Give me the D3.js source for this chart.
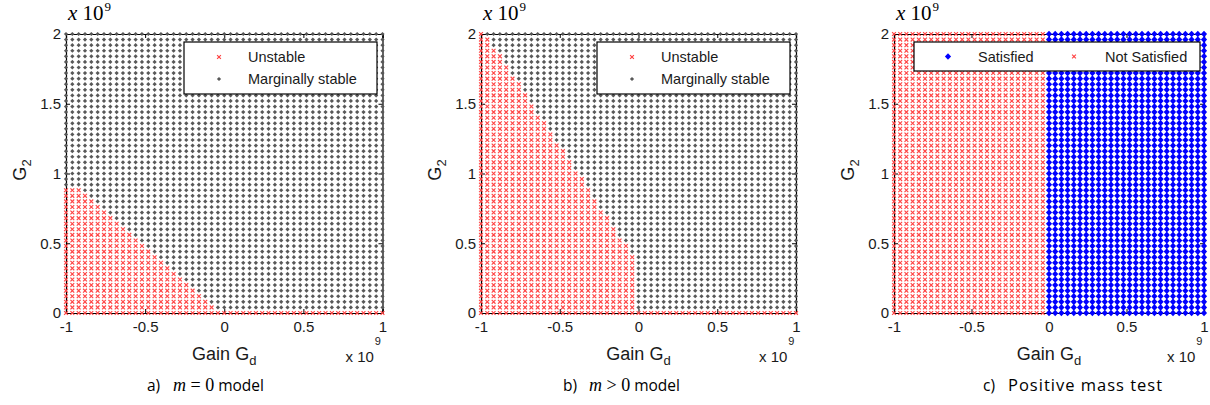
<!DOCTYPE html>
<html>
<head>
<meta charset="utf-8">
<script src="https://cdn.jsdelivr.net/npm/d3@7"></script>
<style>
  html, body { margin: 0; padding: 0; background: #fff; }
  svg { display: block; }
  .tick text { font-family: "Liberation Sans", Arial, sans-serif; font-size: 15px; fill: #1a1a1a; }
</style>
</head>
<body>
<svg id="chart" width="1210" height="405"></svg>
<script>
// Sampling lattice of the gain sweep (values in units of 1e9)
const gridGd = [-1,-0.96,-0.92,-0.88,-0.84,-0.8,-0.76,-0.72,-0.68,-0.64,-0.6,-0.56,-0.52,-0.48,-0.44,-0.4,-0.36,-0.32,-0.28,-0.24,-0.2,-0.16,-0.12,-0.08,-0.04,0,0.04,0.08,0.12,0.16,0.2,0.24,0.28,0.32,0.36,0.4,0.44,0.48,0.52,0.56,0.6,0.64,0.68,0.72,0.76,0.8,0.84,0.88,0.92,0.96,1];
const gridG2 = [0,0.04,0.08,0.12,0.16,0.2,0.24,0.28,0.32,0.36,0.4,0.44,0.48,0.52,0.56,0.6,0.64,0.68,0.72,0.76,0.8,0.84,0.88,0.92,0.96,1,1.04,1.08,1.12,1.16,1.2,1.24,1.28,1.32,1.36,1.4,1.44,1.48,1.52,1.56,1.6,1.64,1.68,1.72,1.76,1.8,1.84,1.88,1.92,1.96,2];

// Highest unstable G2 for each Gd column, m = 0 model
const unstableLimitA = [0.88,0.88,0.88,0.84,0.80,0.76,0.72,0.68,0.64,0.60,0.56,0.52,0.48,0.44,0.40,0.36,0.32,0.28,0.24,0.20,0.16,0.12,0.08,0.04,0,
  0,0,0,0,0,0,0,0,0,0,0,0,0,0,0,0,0,0,0,0,0,0,0,0,0,0];
// Highest unstable G2 for each Gd column, m > 0 model
const unstableLimitB = [2.00,1.96,1.88,1.84,1.76,1.68,1.64,1.56,1.48,1.40,1.36,1.28,1.20,1.16,1.08,1.00,0.96,0.88,0.80,0.72,0.68,0.60,0.52,0.48,0.40,
  0,0,0,0,0,0,0,0,0,0,0,0,0,0,0,0,0,0,0,0,0,0,0,0,0,0];
// Positive mass test outcome per Gd column (1 = satisfied)
const massTestPass = [0,0,0,0,0,0,0,0,0,0,0,0,0,0,0,0,0,0,0,0,0,0,0,0,0,
  1,1,1,1,1,1,1,1,1,1,1,1,1,1,1,1,1,1,1,1,1,1,1,1,1,1];

const xTicks = [-1, -0.5, 0, 0.5, 1];
const xTickLabels = ["-1", "-0.5", "0", "0.5", "1"];
const yTicks = [0, 0.5, 1, 1.5, 2];
const yTickLabels = ["0", "0.5", "1", "1.5", "2"];

const svg = d3.select("#chart");
const SANS = '"Liberation Sans", Arial, sans-serif';
const SERIF = '"Liberation Serif", "Times New Roman", serif';
const CAPTION = '"Open Sans", Lato, sans-serif';

const RED = "#ff4444";
const GRAY = "#585858";
const BLUE = "#0000ff";

const crossPath = r => `M${-r},${-r}L${r},${r}M${-r},${r}L${r},${-r}`;
const diamondPath = (rx, ry) => `M0,${-ry}L${rx},0L0,${ry}L${-rx},0Z`;

function drawRed(g, x, y) {
  g.append("path").attr("d", crossPath(1.9))
    .attr("transform", `translate(${x},${y})`)
    .attr("stroke", RED).attr("stroke-width", 1.15).attr("fill", "none");
}
function drawGray(g, x, y) {
  g.append("path").attr("d", diamondPath(2.1, 2.1))
    .attr("transform", `translate(${x},${y})`)
    .attr("fill", GRAY);
}
function drawBlue(g, x, y) {
  g.append("path").attr("d", diamondPath(3.1, 3.3))
    .attr("transform", `translate(${x},${y})`)
    .attr("fill", BLUE);
}

function drawPanel(p) {
  const x = d3.scaleLinear().domain([-1, 1]).range([p.left, p.right]);
  const y = d3.scaleLinear().domain([0, 2]).range([313, 34]);
  const g = svg.append("g");

  // axes (ticks inward, box on)
  const fmtX = d => xTickLabels[xTicks.indexOf(d)];
  const fmtY = d => yTickLabels[yTicks.indexOf(d)];
  const ax = [
    g.append("g").attr("transform", "translate(0,313)")
      .call(d3.axisBottom(x).tickValues(xTicks).tickFormat(fmtX).tickSize(-4).tickPadding(8)),
    g.append("g").attr("transform", `translate(${p.left},0)`)
      .call(d3.axisLeft(y).tickValues(yTicks).tickFormat(fmtY).tickSize(-4).tickPadding(5)),
    g.append("g").attr("transform", "translate(0,34)")
      .call(d3.axisTop(x).tickValues(xTicks).tickFormat("").tickSize(-4)),
    g.append("g").attr("transform", `translate(${p.right},0)`)
      .call(d3.axisRight(y).tickValues(yTicks).tickFormat("").tickSize(-4))
  ];
  ax.forEach(a => {
    a.select(".domain").attr("stroke", "#000").attr("stroke-width", 1.2);
    a.selectAll(".tick line").attr("stroke", "#000");
    a.selectAll(".tick text").attr("font-family", null).attr("font-size", null);
  });

  // grid of sampled gains
  const marks = g.append("g");
  gridGd.forEach((gd, i) => {
    gridG2.forEach(g2 => {
      const px = x(gd), py = y(g2);
      if (p.kind === "mass") {
        if (massTestPass[i]) drawBlue(marks, px, py);
        else drawRed(marks, px, py);
      } else {
        const lim = p.limits[i];
        if (g2 <= lim + 1e-9) drawRed(marks, px, py);
        else drawGray(marks, px, py);
      }
    });
  });

  // axis labels
  const cx = (p.left + p.right) / 2;
  const xl = g.append("text").attr("x", cx).attr("y", 360)
    .attr("text-anchor", "middle").attr("font-family", SANS).attr("font-size", 18).attr("fill", "#1a1a1a");
  xl.append("tspan").text("Gain G");
  xl.append("tspan").attr("font-size", 13).attr("dy", 5).text("d");

  const yl = g.append("text")
    .attr("transform", `translate(${p.left - 40},170) rotate(-90)`)
    .attr("text-anchor", "middle").attr("font-family", SANS).attr("font-size", 18).attr("fill", "#1a1a1a");
  yl.append("tspan").text("G");
  yl.append("tspan").attr("font-size", 13).attr("dy", 5).text("2");

  // exponent under x axis
  const ex = g.append("text").attr("x", p.right - 37).attr("y", 362)
    .attr("font-family", SANS).attr("font-size", 15).attr("fill", "#1a1a1a");
  ex.append("tspan").text("x 10");
  ex.append("tspan").attr("font-size", 11).attr("dy", -17).attr("dx", 1).text("9");

  // exponent above y axis
  const ey = g.append("text").attr("x", p.left + 2).attr("y", 20)
    .attr("font-family", SERIF).attr("font-size", 21).attr("fill", "#000");
  ey.append("tspan").attr("font-style", "italic").text("x");
  ey.append("tspan").text(" 10");
  ey.append("tspan").attr("font-size", 13).attr("dy", -9).attr("dx", 1).text("9");

  // legend
  const lg = g.append("g");
  lg.append("rect").attr("x", p.legend.x).attr("y", 42)
    .attr("width", p.legend.w).attr("height", p.legend.h)
    .attr("fill", "#fff").attr("stroke", "#000").attr("stroke-width", 1.2);
  p.legend.items.forEach(it => {
    if (it.kind === "red") drawRed(lg, it.mx, it.my);
    else if (it.kind === "gray") drawGray(lg, it.mx, it.my);
    else drawBlue(lg, it.mx, it.my);
    lg.append("text").attr("x", it.tx).attr("y", it.my + 5)
      .attr("font-family", SANS).attr("font-size", 14.5).attr("fill", "#1a1a1a").text(it.label);
  });

  // caption
  const cap = g.append("text").attr("x", p.caption.x).attr("y", 391)
    .attr("font-family", CAPTION).attr("font-size", 15.5).attr("fill", "#000");
  cap.append("tspan").text(p.caption.tag);
  if (p.caption.math) {
    const m = g.append("text").attr("x", p.caption.x + 26).attr("y", 391)
      .attr("font-family", SERIF).attr("font-size", 18).attr("fill", "#000");
    m.append("tspan").attr("font-style", "italic").text("m");
    m.append("tspan").text(p.caption.math);
    m.append("tspan").attr("font-family", CAPTION).attr("font-size", 15.5).text(" model");
  } else {
    g.append("text").attr("x", p.caption.x + 25).attr("y", 391)
      .attr("font-family", CAPTION).attr("font-size", 16.5).attr("letter-spacing", 1)
      .attr("fill", "#000").text(p.caption.text);
  }
}

drawPanel({
  left: 66, right: 382.5, kind: "stability", limits: unstableLimitA,
  legend: { x: 184, w: 193, h: 52, items: [
    { kind: "red", mx: 219, my: 57, tx: 248, label: "Unstable" },
    { kind: "gray", mx: 219, my: 79, tx: 248, label: "Marginally stable" }
  ]},
  caption: { x: 147, tag: "a)", math: " = 0" }
});

drawPanel({
  left: 481, right: 796, kind: "stability", limits: unstableLimitB,
  legend: { x: 597, w: 193, h: 52, items: [
    { kind: "red", mx: 632, my: 57, tx: 661, label: "Unstable" },
    { kind: "gray", mx: 632, my: 79, tx: 661, label: "Marginally stable" }
  ]},
  caption: { x: 563, tag: "b)", math: " > 0" }
});

drawPanel({
  left: 894, right: 1204, kind: "mass",
  legend: { x: 914, w: 286, h: 29, items: [
    { kind: "blue", mx: 948, my: 56.5, tx: 978, label: "Satisfied" },
    { kind: "red", mx: 1074, my: 56.5, tx: 1105, label: "Not Satisfied" }
  ]},
  caption: { x: 983, tag: "c)", text: "Positive mass test" }
});
</script>
</body>
</html>
